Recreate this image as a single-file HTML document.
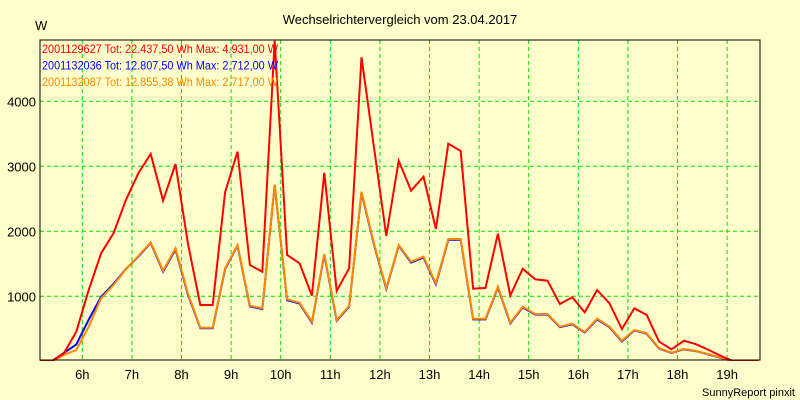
<!DOCTYPE html>
<html><head><meta charset="utf-8"><style>
body{margin:0;background:#ffffcc;}
svg{display:block;font-family:"Liberation Sans",sans-serif;}
</style></head><body>
<svg id="chart" width="800" height="400">
<rect x="0" y="0" width="800" height="400" fill="#ffffcc"/>
<text x="400" y="24" font-size="13" text-anchor="middle" fill="#000">Wechselrichtervergleich vom 23.04.2017</text>
<text x="35" y="30" font-size="13" fill="#000">W</text>
<text x="795" y="396" font-size="11" text-anchor="end" fill="#000">SunnyReport pinxit</text>
<g id="grid"></g><g id="series"></g>
<rect x="40" y="40" width="720" height="320" fill="none" stroke="#000" stroke-width="1"/>
<g id="legend"></g>
</svg>
<script>
const times=[5.13,5.38,5.63,5.88,6.13,6.38,6.63,6.88,7.13,7.38,7.63,7.88,8.13,8.38,8.63,8.88,9.13,9.38,9.63,9.88,10.13,10.38,10.63,10.88,11.13,11.38,11.63,11.88,12.13,12.38,12.63,12.88,13.13,13.38,13.63,13.88,14.13,14.38,14.63,14.88,15.13,15.38,15.63,15.88,16.13,16.38,16.63,16.88,17.13,17.38,17.63,17.88,18.13,18.38,18.63,18.88,19.13,19.38,19.63];
const redValues=[0,0,123,455,1097,1662,1970,2482,2892,3190,2471,3035,1815,866,866,2600,3225,1481,1378,4931,1635,1508,1010,2902,1082,1431,4677,3302,1928,3086,2625,2840,2035,3348,3235,1117,1130,1963,1010,1425,1262,1240,882,985,754,1097,892,497,815,712,302,185,317,261,174,82,0,0,0];
const blueValues=[0,0,130,260,640,990,1190,1420,1610,1820,1380,1720,1030,510,510,1420,1780,845,805,2712,940,890,595,1640,625,840,2595,1800,1110,1780,1520,1595,1185,1870,1870,645,645,1135,585,830,720,720,525,570,445,645,525,305,475,425,195,130,185,155,105,52,0,0,0];
const orangeValues=[0,0,97,174,533,969,1174,1415,1620,1830,1394,1738,1046,517,517,1431,1789,855,815,2717,954,901,609,1651,635,851,2609,1815,1123,1789,1532,1609,1200,1882,1882,655,655,1148,594,840,728,728,533,578,451,655,533,317,482,431,200,133,189,159,108,56,0,0,0];
const xTicks=[6,7,8,9,10,11,12,13,14,15,16,17,18,19];
const yTicks=[1000,2000,3000,4000];
const legendLabels=["2001129627 Tot: 22.437,50 Wh Max: 4.931,00 W","2001132036 Tot: 12.807,50 Wh Max: 2.712,00 W","2001132087 Tot: 12.855,38 Wh Max: 2.717,00 W"];
const NS="http://www.w3.org/2000/svg";
const xScale=h=>82.3+(h-6)*49.6;
const yScale=v=>361.3-v*0.065;
function mk(tag,attrs,parent){const e=document.createElementNS(NS,tag);for(const k in attrs)e.setAttribute(k,attrs[k]);parent.appendChild(e);return e;}
const grid=document.getElementById('grid');
xTicks.forEach(t=>{
 const l=mk('line',{x1:xScale(t),x2:xScale(t),y1:40,y2:360,stroke:'#00e000','stroke-dasharray':'4,3'},grid);
 
 
 const tx=mk('text',{x:xScale(t),y:379,'font-size':13,'text-anchor':'middle',fill:'#000'},grid);
 tx.textContent=t+'h';
 
 
});
yTicks.forEach(t=>{
 const l=mk('line',{x1:40,x2:760,y1:yScale(t),y2:yScale(t),stroke:'#00e000','stroke-dasharray':'4,3'},grid);
 
 
 const tx=mk('text',{x:36,y:yScale(t)+5,'font-size':13,'text-anchor':'end',fill:'#000'},grid);
 tx.textContent=t;
 
 
});
const ser=document.getElementById('series');
function line(vals,color,name){
 const pts=times.map((t,i)=>xScale(t).toFixed(1)+','+yScale(vals[i]).toFixed(1)).join(' ');
 const p=mk('polyline',{points:pts,fill:'none',stroke:color,'stroke-width':2,'stroke-linejoin':'miter'},ser);
 
 
}
const clip=mk('clipPath',{id:'pc'},document.getElementById('chart'));
mk('rect',{x:40,y:38,width:720,height:323},clip);
ser.setAttribute('clip-path','url(#pc)');
line(blueValues,'#0000ff','series-2001132036');
line(orangeValues,'#ff8800','series-2001132087');
line(redValues,'#ff0000','series-2001129627');
const lg=document.getElementById('legend');
const colors=['#ff0000','#0000ff','#ff8800'];
legendLabels.forEach((s,i)=>{
 const tx=mk('text',{x:42,y:53+i*16.5,'font-size':12,fill:colors[i],textLength:236,lengthAdjust:'spacingAndGlyphs'},lg);
 tx.textContent=s;
 
 
});
</script>
</body></html>
